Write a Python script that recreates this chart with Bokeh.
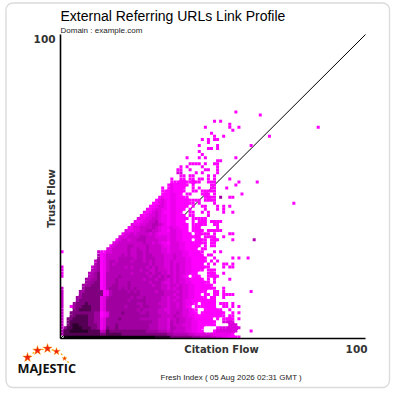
from bokeh.plotting import figure
from bokeh.models import Label, BoxAnnotation, FixedTicker, Range1d
from bokeh.embed import file_html
from bokeh.resources import INLINE

TITLE = "External Referring URLs Link Profile"
DOMAIN = "Domain : example.com"
FOOTER = "Fresh Index ( 05 Aug 2026 02:31 GMT )"
X_NAME = "Citation Flow"
Y_NAME = "Trust Flow"
AXIS_MAX = "100"
LOGO = "MAJESTIC"

# Shade digit -> brightness of the magenta (0 brightest, 9 almost black)
SHADE = [255, 238, 220, 200, 180, 160, 128, 85, 45, 8]

# Dense cells. Index = Trust Flow bucket.
LEFT_START = [1,1,1,1,2,2,2,3,3,4,3,4,5,5,6,6,7,7,8,8,9,9,10,10,11,11,12,12,12,15,16,17,18,19,20,21,22,23,24,25,26,27,28,29,30,31,32,33,33,33,35,36,36,36,36,36,36]
LEFT_CELLS = [
"99999999999999999999999999999988888877777",
"77777777777766777776666666666666665",
"77888888777734766666666666655554443",
"57788877766512655655555555554443332",
"678877766651255565555555555444 3332",
"6777777665512555555555555555443332",
"6677777665512555565555554444443332",
"667777665501255555555555554444 3332",
"666666665501255556555554454443332",
"66777766612555555555545444443322",
"05667776661255555545555455444 4332",
"56667666612555555555544544443332",
"5666666612555555545555544444332",
"5566666612455555554544544444332",
"5666666601455555555544444444332",
"5566666601455555454544444344332",
"56666601455545454544444444332",
"55566601445544454444444344332",
"5556601444544454444443444322",
"54556014445444444443444344 32",
"44560144445444444444344343432",
"445601444444443444434344332",
"44501344444444443443343332",
"34501344444343444434343322",
"4501343444444444443433322",
"3501344344443444343433322",
"501333344444344344433322",
"401333334343344344333322",
"310223333343344343333221",
"223333343343343333221",
"12333344333343333211",
"2233333333433232110",
"123323344433332221",
"22233334433322221",
"1223233332321111",
"211223344332110",
"11223333432111",
"2112233443210",
"101223342110",
"21122332110",
"1012232110",
"101232100",
"10122110",
"0012210",
"001210",
"01210",
"0100",
"000",
"000",
"0.0",
"0",
"","","","","","",
]
RIGHT_CELLS = [
"66666665554443322110000",
"544444332222221111110",
"43333221100...02222222....0",
"44333221100....02222222",
"433322211000000....222",
"434332211000000..2222",
"33433221000000.0.0000.0",
"343322110000000000.00",
"334322100.00000000..0.0",
"333322100..000000..0",
"3323210.0000000..00.0.0",
"332321100.00000.000.0",
"323321100000000",
"332322110000.00..0",
"3233221100.00.00.0000",
"332322110000..00.0........0",
"323322110000000..0",
"33232211000000",
"3232211000000.0",
"32322110000.0.0....0",
"323210.000..0000",
"323221100...000..0",
"32322110000.000",
"3232211000000....0.00",
"32322110000.0.0..00.0",
"322221100000.0.0",
"232221100000..0.....0.0..0",
"23221100000.00",
"22221100000...0.0",
"222110000.00",
"2221100000.0.00",
"222110000000.00",
"2211000.0000.000....0......4",
"2211000000.0000..0",
"2211000.00000.0....00",
"221100.0000.00000",
"211000.000.....0",
"110000.00000..00",
"11000..0.000.0000",
"110000.00000",
"11000.00....0",
"1100..00..0.0....0..0",
"11000.0....0...0.0",
"110000.0..00...0.0.0",
"11000000.0....0",
"1100000000.0000",
"110000.....0000.5..00",
"1100.00...000.0........0",
"10000..00.00000",
"10000..0.0...00...0",
"100000.0.....00......0",
"0000000000..000.......0.....0",
"0..00.00.00.0.0....0",
"...00.00....0.0",
"..22....0.0....0",
"..00..0....00..0",
"...0.0....0....0",
]

# First column (Citation Flow bucket 0)
ZERO_TF = [1,2,3,4,5,6,7,8,9,10,11,12,13,14,15,16,20,21,22,23,28]
ZERO_SHADE = [4,4,3,3,3,3,3,3,3,3,3,3,3,3,3,3,1,1,1,1,0]

# Isolated cells above the dense area and outliers
SPARSE_CF = [57,65,84,50,52,55,55,58,47,56,49,50,53,68,46,48,48,50,51,45,51,51,62,48,49,45,46,41,45,47,57,51,52,42,43,44,45,47,50,51,76]
SPARSE_TF = [74,73,69,71,71,70,69,69,69,68,67,66,66,66,65,65,64,65,65,63,63,62,63,62,62,61,60,59,59,59,59,58,58,57,57,57,57,57,57,57,44]

DIAGONAL = [0, 100]

cells = {}
def add(c, r, d):
    k = SHADE[d]
    cells[(c, r)] = "#%02x00%02x" % (k, k)

for r, start in enumerate(LEFT_START):
    offs = 0
    for ch in LEFT_CELLS[r].replace(" ", ""):
        c = start + offs
        offs += 1
        if ch != "." and c < 36:
            add(c, r, int(ch))
    for i, ch in enumerate(RIGHT_CELLS[r]):
        if ch != ".":
            add(36 + i, r, int(ch))
for r, d in zip(ZERO_TF, ZERO_SHADE):
    add(0, r, d)
for c, r in zip(SPARSE_CF, SPARSE_TF):
    add(c, r, 0)

xs = [c + 0.5 for c, r in cells]
ys = [r + 0.5 for c, r in cells]
colors = list(cells.values())
# Cells that touch filled neighbours: backing layer closes sub-pixel seams.
inner = [(c, r) for c, r in cells if (c + 1, r) in cells and (c - 1, r) in cells
         and (c, r + 1) in cells and ((c, r - 1) in cells or r == 0)]

def X(px):
    return (px - 60) / 3.05
def Y(py):
    return (338 - py) / 3.04

p = figure(width=400, height=400, output_backend="svg", toolbar_location=None,
           x_range=Range1d(X(0), X(400)), y_range=Range1d(Y(400), Y(0)),
           min_border_left=0, min_border_right=0, min_border_top=0, min_border_bottom=0)
p.outline_line_color = None
p.grid.visible = False
p.background_fill_color = "white"

for ax in (p.xaxis[0], p.yaxis[0]):
    ax.ticker = FixedTicker(ticks=[])
    ax.fixed_location = 0
    ax.bounds = (0, 100)
    ax.axis_line_color = "black"
    ax.axis_line_width = 1.6
    ax.major_tick_line_color = None
    ax.minor_tick_line_color = None
    ax.major_label_text_color = None

p.line(DIAGONAL, DIAGONAL, line_color="black", line_width=1)
p.rect([c + 0.5 for c, r in inner], [r + 0.5 for c, r in inner], width=1.25, height=1.25,
       fill_color=[cells[k] for k in inner], line_color=None, dilate=True)
p.rect(xs, ys, width=0.98, height=0.98, fill_color=colors, line_color=None, dilate=True)

def label(text, px, py, size, font="Liberation Sans", style="normal", color="#111111", align="left", angle=0):
    p.add_layout(Label(x=X(px), y=Y(py), text=text, text_font=font, text_font_size=size,
                       text_font_style=style, text_color=color, text_align=align,
                       text_baseline="middle", angle=angle))

label(TITLE, 60, 15, "14px", color="#000000")
label(DOMAIN, 60, 30, "8px", color="#222222")
label(FOOTER, 160, 377, "8px", color="#222222")
label(AXIS_MAX, 55, 38, "10.5px", font="DejaVu Sans", style="bold", color="#333333", align="right")
label(AXIS_MAX, 367, 348, "10.5px", font="DejaVu Sans", style="bold", color="#333333", align="right")
label(X_NAME, 221, 349, "10px", font="DejaVu Sans", style="bold", color="#333333", align="center")
label(Y_NAME, 51, 198, "10px", font="DejaVu Sans", style="bold", color="#333333", align="center", angle=1.5708)
label(LOGO, 17, 367, "12.7px", font="Open Sans", style="bold", color="#111111")

p.add_layout(BoxAnnotation(left=X(5.5), right=X(389), top=Y(2.5), bottom=Y(387),
                           fill_color=None, line_color="#888888", line_width=1.4,
                           border_radius=7))

STAR_X = [27, 37, 47, 56, 64]
STAR_Y = [357, 350, 348, 351, 358]
STAR_SIZE = [10, 10, 10, 8, 5]
p.arc([X(46)], [Y(373)], radius=8.0, start_angle=0.45, end_angle=2.7, line_color="#ffaa00",
      line_width=1.2, line_dash="2 3")
p.scatter([X(v) for v in STAR_X], [Y(v) for v in STAR_Y], marker="star", size=STAR_SIZE,
          fill_color="#ee2211", line_color="#ffaa00", line_width=0.4)

open("out.html", "w").write(file_html(p, INLINE))
